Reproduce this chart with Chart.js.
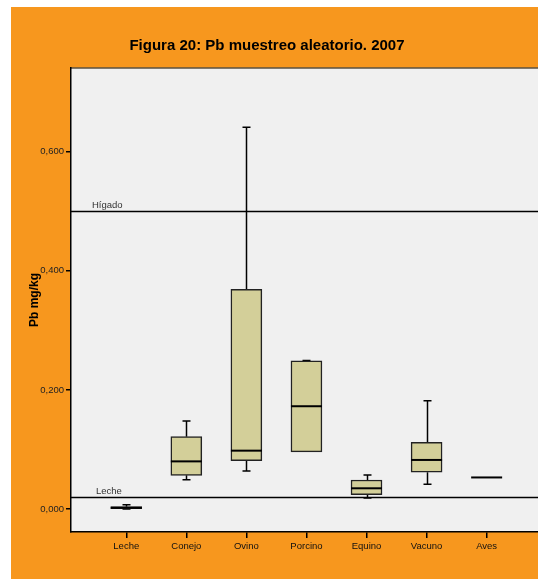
<!DOCTYPE html>
<html>
<head>
<meta charset="utf-8">
<script src="https://cdn.jsdelivr.net/npm/chart.js@4.4.1/dist/chart.umd.min.js"></script>
<style>
  html, body { margin: 0; padding: 0; background: #fff; overflow: hidden; }
  #frame { position: absolute; left: 11px; top: 7px; width: 527px; height: 572px; background: #F7971E; }
</style>
</head>
<body>
<div id="frame"><canvas id="chart" width="527" height="572"></canvas></div>
<script>
// Box plot values (Pb mg/kg)
const categories = ['Leche', 'Conejo', 'Ovino', 'Porcino', 'Equino', 'Vacuno', 'Aves'];
const whiskerLow  = [0.000, 0.049, 0.064, 0.096, 0.0185, 0.0415, 0.053];
const q1          = [0.0005, 0.0566, 0.081, 0.096, 0.024, 0.0617, 0.053];
const median      = [0.002, 0.080, 0.098, 0.1726, 0.0348, 0.0824, 0.053];
const q3          = [0.004, 0.1215, 0.369, 0.2487, 0.0487, 0.112, 0.053];
const whiskerHigh = [0.007, 0.148, 0.641, 0.2495, 0.0571, 0.182, 0.053];

const yTicks = [0, 0.2, 0.4, 0.6];
const refValues = [0.5, 0.02];
const refLabels = ['Hígado', 'Leche'];
const titleText = 'Figura 20: Pb muestreo aleatorio. 2007';

const FONT = "Arial, 'Liberation Sans', sans-serif";
const BOX_W = 31;

// plot background + figure title
const frameDecor = {
    id: 'frameDecor',
    beforeDraw(chart) {
        const { ctx, chartArea: a } = chart;
        ctx.save();
        ctx.fillStyle = '#F0F0F0';
        ctx.fillRect(a.left, a.top, a.right - a.left, a.bottom - a.top);
        ctx.strokeStyle = '#5a5040';
        ctx.lineWidth = 1.5;
        ctx.beginPath();
        ctx.moveTo(a.left, a.top);
        ctx.lineTo(a.right, a.top);
        ctx.stroke();
        ctx.restore();
    },
    afterDraw(chart) {
        const { ctx } = chart;
        ctx.save();
        ctx.fillStyle = '#000';
        ctx.font = 'bold 15px ' + FONT;
        ctx.textAlign = 'center';
        ctx.textBaseline = 'middle';
        ctx.fillText(titleText, 256, 39);
        ctx.restore();
    }
};

// reference lines, whiskers and medians
const boxPlot = {
    id: 'boxPlot',
    beforeDatasetsDraw(chart) {
        const { ctx, chartArea: a, scales: { x, y } } = chart;
        ctx.save();
        ctx.strokeStyle = '#000';
        ctx.lineWidth = 1.5;
        refValues.forEach((v, i) => {
            const py = Math.round(y.getPixelForValue(v)) + 0.5;
            ctx.beginPath();
            ctx.moveTo(a.left, py);
            ctx.lineTo(a.right, py);
            ctx.stroke();
            ctx.fillStyle = '#333';
            ctx.font = '9.5px ' + FONT;
            ctx.textBaseline = 'bottom';
            ctx.fillText(refLabels[i], a.left + (i === 0 ? 21 : 25), py - 1);
        });
        categories.forEach((c, i) => {
            const px = Math.round(x.getPixelForValue(i)) + 0.5;
            const segs = [];
            if (whiskerHigh[i] > q3[i]) segs.push([q3[i], whiskerHigh[i]]);
            if (whiskerLow[i] < q1[i]) segs.push([q1[i], whiskerLow[i]]);
            segs.forEach(([from, to]) => {
                const y0 = y.getPixelForValue(from);
                const y1 = y.getPixelForValue(to);
                ctx.beginPath();
                ctx.moveTo(px, y0);
                ctx.lineTo(px, y1);
                ctx.moveTo(px - 4, y1);
                ctx.lineTo(px + 4, y1);
                ctx.stroke();
            });
        });
        ctx.restore();
    },
    afterDatasetsDraw(chart) {
        const { ctx, scales: { x, y } } = chart;
        ctx.save();
        ctx.strokeStyle = '#000';
        ctx.lineWidth = 2;
        categories.forEach((c, i) => {
            const px = x.getPixelForValue(i);
            const py = y.getPixelForValue(median[i]);
            ctx.beginPath();
            ctx.moveTo(px - BOX_W / 2, py);
            ctx.lineTo(px + BOX_W / 2, py);
            ctx.stroke();
        });
        ctx.restore();
    }
};

const ctx = document.getElementById('chart').getContext('2d');
new Chart(ctx, {
    type: 'bar',
    data: {
        datasets: [{
            data: categories.map((c, i) => ({ x: i, y: [q1[i], q3[i]] })),
            backgroundColor: '#D3CF99',
            borderColor: '#222',
            borderWidth: 1.5,
            borderSkipped: false,
            barThickness: BOX_W
        }]
    },
    options: {
        responsive: false,
        animation: false,
        devicePixelRatio: 1,
        layout: { padding: { top: 61, left: 0, right: 0, bottom: 25 } },
        plugins: {
            legend: { display: false },
            tooltip: { enabled: false },
            title: { display: false }
        },
        scales: {
            x: {
                type: 'linear',
                offset: false,
                min: -0.92,
                max: 6.855,
                afterBuildTicks: (scale) => { scale.ticks = categories.map((c, i) => ({ value: i })); },
                afterFit: (scale) => { scale.height = 22; },
                grid: { offset: false, drawOnChartArea: false, drawTicks: true, tickLength: 6, color: '#000', lineWidth: 1.5 },
                border: { display: true, color: '#000', width: 1.5 },
                ticks: {
                    padding: 3,
                    color: '#111',
                    font: { family: FONT, size: 9.5 },
                    maxRotation: 0,
                    callback: (v) => categories[v]
                }
            },
            y: {
                min: -0.0386,
                max: 0.7406,
                afterBuildTicks: (scale) => { scale.ticks = yTicks.map(v => ({ value: v })); },
                afterFit: (scale) => { scale.width = 60; },
                grid: { drawOnChartArea: false, drawTicks: true, tickLength: 5, color: '#000', lineWidth: 1.5 },
                border: { display: true, color: '#000', width: 1.5 },
                ticks: {
                    padding: 2,
                    color: '#222',
                    font: { family: FONT, size: 9.5 },
                    callback: (v) => v.toFixed(3).replace('.', ',')
                },
                title: {
                    display: true,
                    text: 'Pb mg/kg',
                    color: '#000',
                    font: { family: FONT, size: 12, weight: 'bold' },
                    padding: { top: 16, bottom: 0 }
                }
            }
        }
    },
    plugins: [frameDecor, boxPlot]
});
</script>
</body>
</html>
